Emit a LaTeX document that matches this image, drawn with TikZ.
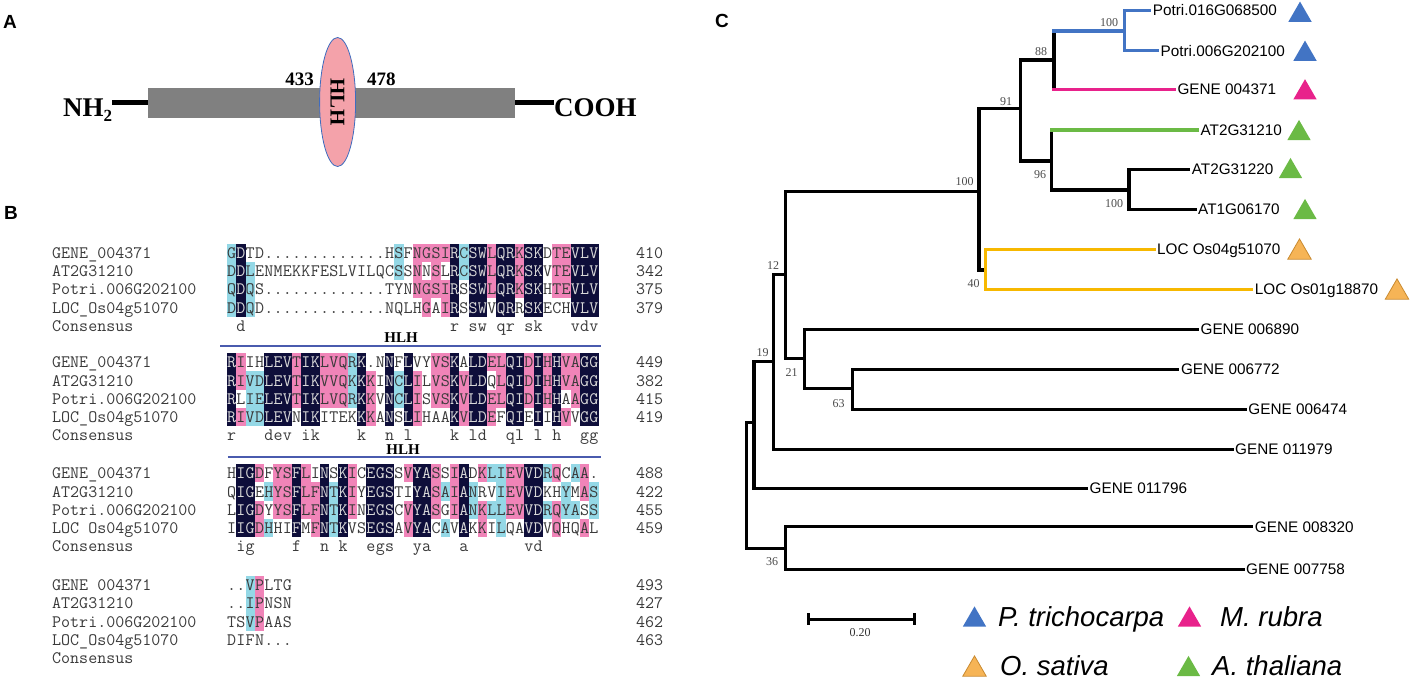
\documentclass[tikz,border=0pt]{standalone}
\usepackage{fontspec}
\setmainfont{Liberation Serif}
\setsansfont{Liberation Sans}
\usetikzlibrary{shapes.geometric}

\definecolor{alnk}{HTML}{0E0E3A}
\definecolor{alnp}{HTML}{F084B8}
\definecolor{alnc}{HTML}{94D8E6}
\definecolor{alnw}{HTML}{FFFFFF}
\definecolor{alntk}{HTML}{D8D8D8}
\definecolor{alntp}{HTML}{3A3A3A}
\definecolor{alntc}{HTML}{3A3A3A}
\definecolor{alntw}{HTML}{3A3A3A}
\definecolor{hlhline}{HTML}{4A5BAE}
\definecolor{hlhfill}{HTML}{F4A2AA}
\definecolor{hlhedge}{HTML}{3F6CBE}
\definecolor{ptcol}{HTML}{4274C4}
\definecolor{mrcol}{HTML}{E8228B}
\definecolor{atcol}{HTML}{6BBA45}
\definecolor{oscol}{HTML}{F6B456}
\definecolor{osedge}{HTML}{C98A30}
\definecolor{osbr}{HTML}{F7B800}

\tikzset{
  panel/.style={font=\sffamily\bfseries\fontsize{19}{19}\selectfont, inner sep=0pt},
  res/.style={font=\ttfamily\fontsize{17.5}{18}\selectfont, inner sep=0pt, anchor=base},
  seqname/.style={font=\ttfamily\fontsize{17.5}{18}\selectfont, inner sep=0pt, anchor=base west, text=alntw},
  term/.style={font=\bfseries\fontsize{27}{27}\selectfont, inner sep=0pt, anchor=base west},
  resnum/.style={font=\bfseries\fontsize{19}{19}\selectfont, inner sep=0pt},
  hlhdom/.style={ellipse, draw=hlhedge, fill=hlhfill, line width=0.8pt, minimum width=129pt,
    minimum height=36pt, inner sep=0pt, font=\bfseries\fontsize{21}{21}\selectfont},
  hlhtag/.style={font=\bfseries\fontsize{15}{15}\selectfont, inner sep=0pt},
  hlhbar/.style={draw=hlhline, line width=2.4pt},
  br/.style={line width=3.2pt, line cap=rect},
  leaf/.style={font=\sffamily\fontsize{15.3}{16}\selectfont, anchor=west, inner sep=3pt,
    text height=11pt, text depth=0pt},
  boot/.style={font=\fontsize{12}{12}\selectfont, text=black!70, inner sep=0pt},
  tri/.style={regular polygon, regular polygon sides=3, minimum size=27pt, inner sep=0pt, yshift=-3.4pt},
  spec/.style={font=\sffamily\itshape\fontsize{27.5}{28}\selectfont, anchor=west, inner sep=0pt,
    text height=19.5pt, text depth=0pt},
}

\begin{document}
\begin{tikzpicture}[x=1pt,y=-1pt]
  \useasboundingbox (0,0) rectangle (1413,679);

  % panel A
  \node[panel] (pa) at (10,21.5) {A};
  \node[rectangle, fill=gray, minimum width=367pt, minimum height=30.6pt, inner sep=0pt] (bar) at (331.5,103) {};
  \node[term] (nh) at (63,117) {NH\raisebox{-5pt}{\fontsize{17}{17}\selectfont 2}};
  \node[term] (coo) at (554,117) {COOH};
  \draw[line width=5pt] (nh.east |- bar.west) -- (bar.west);
  \draw[line width=5pt] (bar.east) -- (coo.west |- bar.east);
  \node[hlhdom, rotate=-90] (hlh) at (337.6,102) {HLH};
  \node[resnum, anchor=base east] (p433) at (314,86) {433};
  \node[resnum, anchor=base west] (p478) at (367,86) {478};

  % panel B
  \node[panel] (pb) at (11,213) {B};
  \foreach \nm[count=\i] in {GENE\_004371,AT2G31210,Potri.006G202100,LOC\_Os04g51070,Consensus}
    \node[seqname] (nmA\i) at (52,{252.7+(\i-1)*18.3+5.4}) {\nm};
  \foreach \nm[count=\i] in {GENE\_004371,AT2G31210,Potri.006G202100,LOC\_Os04g51070,Consensus}
    \node[seqname] (nmB\i) at (52,{362.3+(\i-1)*18.3+5.4}) {\nm};
  \foreach \nm[count=\i] in {GENE\_004371,AT2G31210,Potri.006G202100,LOC Os04g51070,Consensus}
    \node[seqname] (nmC\i) at (52,{473.3+(\i-1)*18.3+5.4}) {\nm};
  \foreach \nm[count=\i] in {GENE 004371,AT2G31210,Potri.006G202100,LOC\_Os04g51070,Consensus}
    \node[seqname] (nmD\i) at (52,{585+(\i-1)*18.3+5.4}) {\nm};
  \foreach \n[count=\i] in {410,342,375,379}
    \node[seqname] (ndA\i) at (636,{252.7+(\i-1)*18.3+5.4}) {\n};
  \foreach \n[count=\i] in {449,382,415,419}
    \node[seqname] (ndB\i) at (636,{362.3+(\i-1)*18.3+5.4}) {\n};
  \foreach \n[count=\i] in {488,422,455,459}
    \node[seqname] (ndC\i) at (636,{473.3+(\i-1)*18.3+5.4}) {\n};
  \foreach \n[count=\i] in {493,427,462,463}
    \node[seqname] (ndD\i) at (636,{585+(\i-1)*18.3+5.4}) {\n};

  \foreach \l[count=\i] in {%
{c/G,k/D,w/T,w/D,w/.,w/.,w/.,w/.,w/.,w/.,w/.,w/.,w/.,w/.,w/.,w/.,w/.,w/H,c/S,w/F,p/N,p/G,p/S,p/I,k/R,c/C,k/S,k/W,p/L,k/Q,k/R,p/K,k/S,k/K,w/D,p/T,p/E,k/V,k/L,k/V},
{c/D,k/D,c/L,w/E,w/N,w/M,w/E,w/K,w/K,w/F,w/E,w/S,w/L,w/V,w/I,w/L,w/Q,w/C,c/S,w/S,p/N,w/N,p/S,w/L,k/R,c/C,k/S,k/W,p/L,k/Q,k/R,p/K,k/S,k/K,w/V,p/T,p/E,k/V,k/L,k/V},
{c/Q,k/D,c/Q,w/S,w/.,w/.,w/.,w/.,w/.,w/.,w/.,w/.,w/.,w/.,w/.,w/.,w/.,w/T,w/Y,w/N,p/N,p/G,p/S,p/I,k/R,w/S,k/S,k/W,p/L,k/Q,k/R,p/K,k/S,k/K,w/H,p/T,p/E,k/V,k/L,k/V},
{c/D,k/D,c/Q,w/D,w/.,w/.,w/.,w/.,w/.,w/.,w/.,w/.,w/.,w/.,w/.,w/.,w/.,w/N,w/Q,w/L,w/H,p/G,w/A,p/I,k/R,w/S,k/S,k/W,w/V,k/Q,k/R,w/R,k/S,k/K,w/E,w/C,w/H,k/V,k/L,k/V}} {
    \pgfmathsetmacro\yy{252.7+(\i-1)*18.3}
    \foreach \hue/\ltr[count=\j] in \l {
      \fill[fill=aln\hue] ({227+(\j-1)*9.29},{\yy-9.15}) rectangle ++(9.29,18.3);
      \node[res, text=alnt\hue] (rA\i-\j) at ({231.65+(\j-1)*9.29},{\yy+5.4}) {\ltr};
    }
  }
  \foreach \j/\ltr in {2/d,25/r,27/s,28/w,30/q,31/r,33/s,34/k,38/v,39/d,40/v}
    \node[res, text=alntw] (cA\j) at ({231.65+(\j-1)*9.29},{252.7+4*18.3+5.4}) {\ltr};

  \node[hlhtag] (hlhA) at (401,337.7) {HLH};
  \draw[hlhbar] (220.4,345.7) -- (600.9,345.7);

  \foreach \l[count=\i] in {%
{k/R,p/I,w/I,w/H,k/L,k/E,k/V,p/T,k/I,k/K,p/L,p/V,p/Q,c/R,k/K,w/.,w/N,k/N,w/F,k/L,w/V,w/Y,p/V,p/S,k/K,w/A,k/L,k/D,p/E,p/L,k/Q,k/I,p/D,k/I,p/H,k/H,p/V,p/A,k/G,k/G},
{k/R,p/I,c/V,c/D,k/L,k/E,k/V,p/T,k/I,k/K,p/V,p/V,p/Q,c/K,k/K,p/K,w/I,k/N,c/C,k/L,p/I,w/L,p/V,p/S,k/K,p/V,k/L,k/D,w/Q,p/L,k/Q,k/I,p/D,k/I,p/H,k/H,p/V,p/A,k/G,k/G},
{k/R,w/L,c/I,c/E,k/L,k/E,k/V,p/T,k/I,k/K,p/L,p/V,p/Q,c/R,k/K,p/K,w/V,k/N,c/C,k/L,p/I,w/S,p/V,p/S,k/K,p/V,k/L,k/D,p/E,p/L,k/Q,k/I,p/D,k/I,p/H,k/H,w/A,p/A,k/G,k/G},
{k/R,p/I,c/V,c/D,k/L,k/E,k/V,w/N,k/I,k/K,w/I,w/T,w/E,w/K,k/K,p/K,w/A,k/N,w/S,k/L,p/I,w/H,w/A,w/A,k/K,p/V,k/L,k/D,p/E,w/F,k/Q,k/I,w/E,k/I,w/I,k/H,p/V,w/V,k/G,k/G}} {
    \pgfmathsetmacro\yy{362.3+(\i-1)*18.3}
    \foreach \hue/\ltr[count=\j] in \l {
      \fill[fill=aln\hue] ({227+(\j-1)*9.29},{\yy-9.15}) rectangle ++(9.29,18.3);
      \node[res, text=alnt\hue] (rB\i-\j) at ({231.65+(\j-1)*9.29},{\yy+5.4}) {\ltr};
    }
  }
  \foreach \j/\ltr in {1/r,5/d,6/e,7/v,9/i,10/k,15/k,18/n,20/l,25/k,27/l,28/d,31/q,32/l,34/l,36/h,39/g,40/g}
    \node[res, text=alntw] (cB\j) at ({231.65+(\j-1)*9.29},{362.3+4*18.3+5.4}) {\ltr};

  \node[hlhtag] (hlhB) at (403,449.5) {HLH};
  \draw[hlhbar] (227.8,456.7) -- (600.9,456.7);

  \foreach \l[count=\i] in {%
{w/H,k/I,k/G,p/D,w/F,p/Y,p/S,k/F,p/L,w/I,k/N,w/S,k/K,p/I,w/C,k/E,k/G,k/S,w/S,p/V,k/Y,k/A,p/S,w/S,p/I,k/A,w/D,p/K,c/L,c/I,p/E,p/V,k/V,k/D,c/R,p/Q,w/C,c/A,p/A,w/.},
{w/Q,k/I,k/G,w/E,c/H,p/Y,p/S,k/F,p/L,p/F,k/N,c/T,k/K,p/I,w/Y,k/E,k/G,k/S,w/T,w/I,k/Y,k/A,p/S,c/A,p/I,k/A,c/N,w/R,w/V,c/I,p/E,p/V,k/V,k/D,w/K,w/H,c/Y,w/M,p/A,c/S},
{w/L,k/I,k/G,p/D,w/Y,p/Y,p/S,k/F,p/L,p/F,k/N,c/T,k/K,p/I,w/N,k/E,k/G,k/S,w/C,p/V,k/Y,k/A,p/S,w/G,p/I,k/A,c/N,p/K,c/L,c/L,p/E,p/V,k/V,k/D,c/R,p/Q,c/Y,c/A,w/S,c/S},
{w/I,k/I,k/G,p/D,c/H,w/H,w/I,k/F,w/M,p/F,k/N,c/T,k/K,w/V,w/S,k/E,k/G,k/S,w/A,p/V,k/Y,k/A,w/C,c/A,w/V,k/A,w/K,p/K,w/I,c/L,w/Q,w/A,k/V,k/D,w/V,p/Q,w/H,w/Q,p/A,w/L}} {
    \pgfmathsetmacro\yy{473.3+(\i-1)*18.3}
    \foreach \hue/\ltr[count=\j] in \l {
      \fill[fill=aln\hue] ({227+(\j-1)*9.29},{\yy-9.15}) rectangle ++(9.29,18.3);
      \node[res, text=alnt\hue] (rC\i-\j) at ({231.65+(\j-1)*9.29},{\yy+5.4}) {\ltr};
    }
  }
  \foreach \j/\ltr in {2/i,3/g,8/f,11/n,13/k,16/e,17/g,18/s,21/y,22/a,26/a,33/v,34/d}
    \node[res, text=alntw] (cC\j) at ({231.65+(\j-1)*9.29},{473.3+4*18.3+5.4}) {\ltr};

  \foreach \l[count=\i] in {%
{w/.,w/.,c/V,p/P,w/L,w/T,w/G},
{w/.,w/.,c/I,p/P,w/N,w/S,w/N},
{w/T,w/S,c/V,p/P,w/A,w/A,w/S},
{w/D,w/I,w/F,w/N,w/.,w/.,w/.}} {
    \pgfmathsetmacro\yy{585+(\i-1)*18.3}
    \foreach \hue/\ltr[count=\j] in \l {
      \fill[fill=aln\hue] ({227+(\j-1)*9.29},{\yy-9.15}) rectangle ++(9.29,18.3);
      \node[res, text=alnt\hue] (rD\i-\j) at ({231.65+(\j-1)*9.29},{\yy+5.4}) {\ltr};
    }
  }

  % panel C
  \node[panel] (pc) at (722,21) {C};
  \coordinate (root) at (746.5,485.5);
  \coordinate (nA) at (754,422.7);
  \coordinate (n19) at (773.5,361.7);
  \coordinate (n12) at (785.7,274.3);
  \coordinate (n21) at (804.8,358.3);
  \coordinate (n63) at (852.6,388.3);
  \coordinate (nbig) at (979,191.7);
  \coordinate (n91) at (1020.4,108.3);
  \coordinate (n88) at (1053.9,60);
  \coordinate (npt) at (1124.8,31);
  \coordinate (n96) at (1051.7,161);
  \coordinate (nat) at (1129,190);
  \coordinate (n40) at (985.7,270);
  \coordinate (n36) at (785.7,548.3);

  \node[leaf] (p016) at (1149.6,10.5) {Potri.016G068500};
  \node[leaf] (p006) at (1157.4,50.7) {Potri.006G202100};
  \node[leaf] (g4371) at (1174.3,89.3) {GENE 004371};
  \node[leaf] (at10) at (1197.4,130) {AT2G31210};
  \node[leaf] (at20) at (1188.7,169.3) {AT2G31220};
  \node[leaf] (at70) at (1195,209.3) {AT1G06170};
  \node[leaf] (os04) at (1153.9,249.3) {LOC Os04g51070};
  \node[leaf] (os01) at (1251.7,289.3) {LOC Os01g18870};
  \node[leaf] (g6890) at (1197.4,329.3) {GENE 006890};
  \node[leaf] (g6772) at (1177.8,369.3) {GENE 006772};
  \node[leaf] (g6474) at (1245.2,409.3) {GENE 006474};
  \node[leaf] (g11979) at (1232,449.3) {GENE 011979};
  \node[leaf] (g11796) at (1086.5,488.3) {GENE 011796};
  \node[leaf] (g8320) at (1251.7,526.7) {GENE 008320};
  \node[leaf] (g7758) at (1243,569.3) {GENE 007758};

  \draw[br] (nA) -| (root) |- (n36);
  \draw[br] (n19) -| (nA) |- (g11796.west);
  \draw[br] (n12) -| (n19) |- (g11979.west);
  \draw[br] (nbig) -| (n12) |- (n21);
  \draw[br] (g6890.west) -| (n21) |- (n63);
  \draw[br] (g6772.west) -| (n63) |- (g6474.west);
  \draw[br] (g8320.west) -| (n36) |- (g7758.west);
  \draw[br] (n91) -| (nbig) |- (n40);
  \draw[br] (n88) -| (n91) |- (n96);
  \draw[br] (n88 |- npt) -- (n88 |- g4371.west);
  \draw[br] (n96 |- at10.west) |- (nat);
  \draw[br] (at20.west) -| (nat) |- (at70.west);
  \draw[br, draw=ptcol] (n88 |- npt) -- (npt);
  \draw[br, draw=ptcol] (p016.west) -| (npt) |- (p006.west);
  \draw[br, draw=mrcol] (n88 |- g4371.west) -- (g4371.west);
  \draw[br, draw=atcol] (n96 |- at10.west) -- (at10.west);
  \draw[br, draw=osbr] (os04.west) -| (n40) |- (os01.west);

  \node[boot] (b1) at (1109,22.7) {100};
  \node[boot] (b2) at (1041,51.7) {88};
  \node[boot] (b3) at (1006,101.7) {91};
  \node[boot] (b4) at (964.5,181.7) {100};
  \node[boot] (b5) at (1040,175) {96};
  \node[boot] (b6) at (1114,204) {100};
  \node[boot] (b7) at (973.5,283.3) {40};
  \node[boot] (b8) at (773,266) {12};
  \node[boot] (b9) at (762.5,352.7) {19};
  \node[boot] (b10) at (791.7,372.7) {21};
  \node[boot] (b11) at (838.6,403.3) {63};
  \node[boot] (b12) at (772,561.7) {36};

  \node[tri, fill=ptcol] (t1) at (1300,11.7) {};
  \node[tri, fill=ptcol] (t2) at (1305,50.7) {};
  \node[tri, fill=mrcol] (t3) at (1305,89.3) {};
  \node[tri, fill=atcol] (t4) at (1299,130) {};
  \node[tri, fill=atcol] (t5) at (1290.5,168) {};
  \node[tri, fill=atcol] (t6) at (1305,209) {};
  \node[tri, fill=oscol, draw=osedge, line width=0.8pt] (t7) at (1299.5,249) {};
  \node[tri, fill=oscol, draw=osedge, line width=0.8pt] (t8) at (1397,289) {};

  % scale and legend
  \coordinate (sb1) at (808,619);
  \coordinate (sb2) at (914,619);
  \draw[line width=3pt] (sb1) -- (sb2);
  \draw[line width=3pt] ([yshift=6pt]sb1) -- ([yshift=-6pt]sb1);
  \draw[line width=3pt] ([yshift=6pt]sb2) -- ([yshift=-6pt]sb2);
  \node[boot, text=black!80] (sbl) at (860,633) {0.20};

  \node[tri, fill=ptcol] (k1) at (974.5,616.5) {};
  \node[spec] (lpt) at (998,617) {P. trichocarpa};
  \node[tri, fill=mrcol] (k2) at (1189.5,616.5) {};
  \node[spec] (lmr) at (1220,617) {M. rubra};
  \node[tri, fill=oscol, draw=osedge, line width=0.8pt] (k3) at (974.5,666) {};
  \node[spec] (los) at (1000,666) {O. sativa};
  \node[tri, fill=atcol] (k4) at (1188.5,666) {};
  \node[spec] (lat) at (1212,666) {A. thaliana};
\end{tikzpicture}
\end{document}
